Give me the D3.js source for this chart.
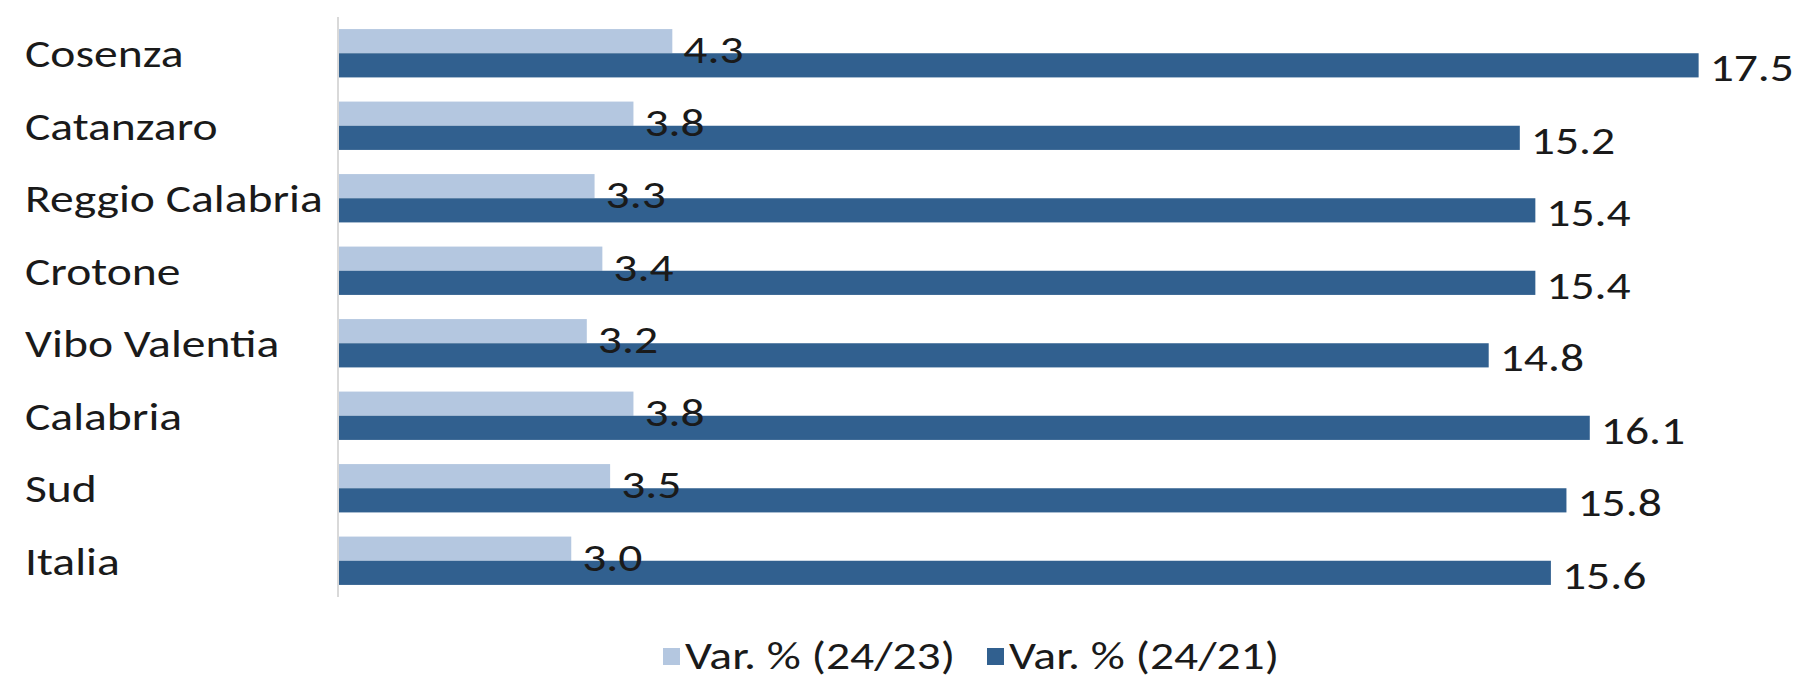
<!DOCTYPE html>
<html lang="it">
<head>
<meta charset="utf-8"/>
<title>Var. % Calabria</title>
<script src="https://d3js.org/d3.v7.min.js"></script>
<style>
body { margin: 0; background: #fff; }
text { font-family: Calibri, Carlito, Lato, sans-serif; fill: #1a1a1a; }
.lbl { font-size: 39px; }
.axis path { stroke: #d9d9d9; stroke-width: 2; }
</style>
</head>
<body>
<div id="chart"></div>
<script>
// data
var categories = ["Cosenza", "Catanzaro", "Reggio Calabria", "Crotone", "Vibo Valentia", "Calabria", "Sud", "Italia"];
var seriesNames = ["Var. % (24/23)", "Var. % (24/21)"];
var var2423 = [4.3, 3.8, 3.3, 3.4, 3.2, 3.8, 3.5, 3.0];
var var2421 = [17.5, 15.2, 15.4, 15.4, 14.8, 16.1, 15.8, 15.6];
var colors = ["#b4c7e0", "#31608f"];

var w = 1799, h = 675;
var mLeft = 338, mTop = 17, mBottom = 597;
var stretch = 1.22; // the original text is a bit wider than Lato

function place(x, y) {
   return "translate(" + x + "," + y + ") scale(" + stretch + ",1)";
}

var rows = categories.map(function(c, i) {
   return { cat: c, vals: [var2423[i], var2421[i]] };
});

var svg = d3.select("#chart").append("svg")
   .attr("width", w)
   .attr("height", h);

var y0 = d3.scaleBand()
   .domain(categories)
   .range([mTop, mBottom])
   .paddingInner(1 / 3)
   .paddingOuter(1 / 6);

var y1 = d3.scaleBand()
   .domain([0, 1])
   .range([0, y0.bandwidth()]);

var x = d3.scaleLinear()
   .domain([0, 20])
   .range([mLeft, mLeft + 20 * 77.75]);

var groups = svg.selectAll(".grp")
   .data(rows)
   .enter().append("g")
   .attr("class", "grp")
   .attr("transform", function(d) { return "translate(0," + y0(d.cat) + ")"; });

groups.selectAll("rect")
   .data(function(d) { return d.vals; })
   .enter().append("rect")
   .attr("x", x(0))
   .attr("y", function(d, i) { return y1(i); })
   .attr("width", function(d) { return x(d) - x(0); })
   .attr("height", y1.bandwidth())
   .attr("fill", function(d, i) { return colors[i]; });

// value labels (they sit a bit low, like in the original)
var labelDrop = [22, 16];
groups.selectAll("text.val")
   .data(function(d) { return d.vals; })
   .enter().append("text")
   .attr("class", "val lbl")
   .attr("transform", function(d, i) {
      return place(x(d) + 11, y1(i) + y1.bandwidth() / 2 + labelDrop[i]);
   })
   .text(function(d) { return d.toFixed(1); });

// category axis
var yAxis = d3.axisLeft(y0).tickSize(0).tickPadding(0);
var ax = svg.append("g")
   .attr("class", "axis")
   .attr("transform", "translate(" + mLeft + ",0)")
   .attr("font-family", null)
   .attr("font-size", null)
   .call(yAxis);
ax.select(".domain").attr("d", "M0," + mTop + "V" + mBottom);
ax.selectAll(".tick text")
   .attr("class", "lbl")
   .attr("x", 0)
   .attr("y", 0)
   .attr("dy", null)
   .attr("text-anchor", "start")
   .attr("fill", null)
   .attr("transform", place(25 - mLeft, 14));

// legend
var legX = [663, 987];
var leg = svg.selectAll(".leg")
   .data(seriesNames)
   .enter().append("g")
   .attr("class", "leg")
   .attr("transform", function(d, i) { return "translate(" + legX[i] + ",648)"; });
leg.append("rect")
   .attr("width", 17)
   .attr("height", 17)
   .attr("fill", function(d, i) { return colors[i]; });
leg.append("text")
   .attr("class", "lbl")
   .attr("transform", place(22, 21))
   .text(function(d) { return d; });
</script>
</body>
</html>
